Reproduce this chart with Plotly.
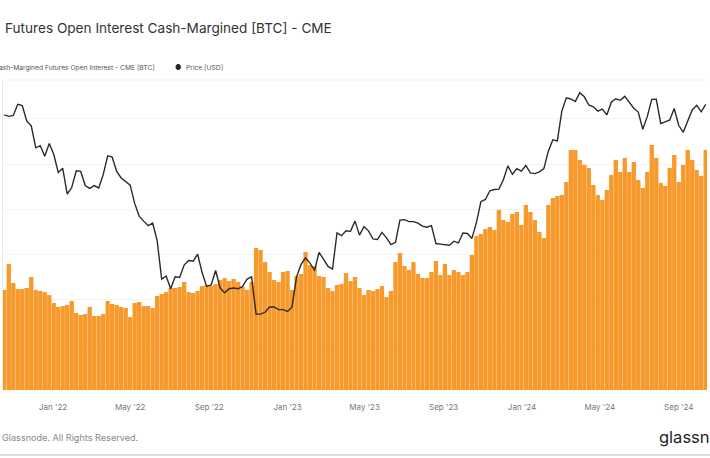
import pandas as pd
import plotly.graph_objects as go

# Weekly samples starting 2021-10-17
start_date = "2021-10-17"

# CME cash-margined futures open interest [BTC] (weekly)
oi_btc = [
    66400, 83600, 71000, 67000, 67000, 67700, 75000, 66400, 65700, 65000,
    63000, 57700, 55100, 55700, 56400, 59100, 51100, 49800, 50400, 55100,
    49100, 49100, 50400, 59100, 57100, 56400, 55100, 54400, 48400, 57700,
    58400, 55700, 55700, 54400, 62400, 63700, 65000, 67700, 67700, 68400,
    71700, 65000, 64400, 65700, 69000, 69700, 69000, 70300, 73000, 74300,
    72300, 73700, 71700, 68400, 66400, 71700, 94200, 92900, 84900, 78300,
    73000, 71700, 78300, 79000, 66400, 75600, 77000, 91600, 82900, 82300,
    75600, 75000, 67700, 65700, 69700, 70300, 77600, 72300, 75000, 67700,
    63000, 66400, 65700, 67000, 69000, 61700, 65700, 84900, 90900, 82300,
    79600, 84900, 77000, 74300, 74300, 78300, 85600, 76300, 83600, 76300,
    79600, 78300, 76300, 78300, 89600, 102200, 103500, 106800, 108200, 106200,
    119400, 112800, 111500, 116800, 118100, 109500, 122800, 118100, 112800, 104800,
    100900, 122800, 127400, 128700, 129400, 138000, 159300, 159300, 152600, 149300,
    147300, 136000, 129400, 126100, 132700, 142700, 152600, 144700, 154000, 144700,
    151300, 139400, 134000, 144700, 162600, 154000, 137400, 135400, 147300, 155900,
    138000, 149300, 159300, 152600, 146000, 142000, 159300,
]

# BTC price [USD] (weekly)
price_usd = [
    61500, 60900, 61300, 66000, 65500, 59000, 57200, 49400, 50100, 46700,
    50800, 47300, 41900, 43100, 36300, 37900, 42400, 42200, 38400, 37700,
    38400, 37800, 41300, 46800, 46400, 42200, 40400, 39500, 38500, 34100,
    31300, 30300, 29400, 29900, 26600, 20600, 21000, 19300, 20900, 20800,
    22600, 23300, 23200, 24300, 21500, 19600, 19800, 21800, 19400, 18800,
    19300, 19400, 19300, 19600, 20600, 20900, 16300, 16300, 16500, 17100,
    17100, 16800, 16800, 16600, 17100, 20900, 22700, 23700, 22900, 21800,
    24600, 23500, 22400, 22000, 28000, 27500, 28400, 28300, 30300, 27600,
    29200, 28400, 26900, 26800, 28100, 27100, 25900, 26300, 30500, 30600,
    30200, 30200, 29900, 29300, 29100, 29400, 26100, 26000, 25900, 25800,
    26500, 26200, 28000, 27900, 27000, 30000, 34500, 35000, 37100, 37400,
    37500, 39900, 43800, 41400, 43000, 42300, 43900, 41800, 41600, 42100,
    43000, 48300, 52100, 51700, 63100, 68900, 68400, 67200, 71300, 69400,
    65700, 64900, 63100, 63900, 61500, 66900, 68500, 67800, 69600, 66600,
    64300, 62700, 55900, 60800, 68200, 68300, 58100, 58700, 59500, 64200,
    57300, 54800, 59200, 63600, 65600, 62800, 66000,
]

title_text = "Futures Open Interest Cash-Margined [BTC] - CME"
oi_name = "Cash-Margined Futures Open Interest - CME [BTC]"
price_name = "Price [USD]"
footer_text = "Glassnode. All Rights Reserved."
brand_text = "glassnode"

dates = pd.date_range(start_date, periods=len(oi_btc), freq="7D")

W, H = 710, 458
ML, MR, MT, MB = 3, 3, 80, 68
PW, PH = W - ML - MR, H - MT - MB


def px_x(p):
    return (p - ML) / PW


def px_y(p):
    return (H - MB - p) / PH


FONT = "Inter, 'Noto Sans', sans-serif"
ORANGE = "#f7992b"

fig = go.Figure()
fig.add_trace(go.Bar(
    x=dates, y=oi_btc, name=oi_name, marker_color=ORANGE,
    marker_line_width=0, yaxis="y",
))
fig.add_trace(go.Scatter(
    x=dates, y=price_usd[:len(dates)], name=price_name, mode="lines",
    line=dict(color="#2a2a2a", width=1.4), yaxis="y2",
))

fig.update_layout(
    width=W, height=H,
    margin=dict(l=ML, r=MR, t=MT, b=MB),
    paper_bgcolor="white", plot_bgcolor="white",
    showlegend=False, bargap=0.04,
    font=dict(family=FONT),
    xaxis=dict(
        range=["2021-10-15", "2024-10-15"], type="date",
        tick0="2022-01-01", dtick="M4", tickformat="%b '%y",
        showgrid=False, zeroline=False, showline=False,
        ticks="outside", ticklen=9, tickcolor="rgba(0,0,0,0)",
        tickfont=dict(size=8, color="#777"),
    ),
    yaxis=dict(
        range=[0, 205750], dtick=30000, showticklabels=False,
        showgrid=True, gridcolor="#f3f3f3", gridwidth=1,
        zeroline=False, showline=True, linecolor="#efebdc", linewidth=1,
    ),
    yaxis2=dict(
        type="log", range=[3.9925, 4.890], overlaying="y",
        showticklabels=False, showgrid=False, zeroline=False,
    ),
)

ann = [
    dict(text=title_text, x=px_x(3), y=px_y(28), xanchor="left", yanchor="middle",
         font=dict(size=13.6, color="#333333")),
    dict(text=oi_name, x=px_x(157), y=px_y(68), xanchor="right", yanchor="middle",
         font=dict(size=6.7, color="#555555")),
    dict(text="●", x=px_x(178), y=px_y(68), xanchor="center", yanchor="middle",
         font=dict(size=7, color="#222222")),
    dict(text=price_name, x=px_x(184), y=px_y(68), xanchor="left", yanchor="middle",
         font=dict(size=6.7, color="#555555")),
    dict(text=footer_text, x=px_x(0), y=px_y(437), xanchor="left", yanchor="middle",
         font=dict(size=9.1, color="#888888")),
    dict(text=brand_text, x=px_x(657), y=px_y(437), xanchor="left", yanchor="middle",
         font=dict(size=16.5, color="#1e1e1e")),
]
for a in ann:
    a.update(xref="paper", yref="paper", showarrow=False)
fig.update_layout(annotations=ann)

fig.add_shape(type="line", xref="paper", yref="paper",
              x0=-0.01, x1=1.01, y0=px_y(455), y1=px_y(455),
              line=dict(color="#d0d0d0", width=1.5))
fig.add_shape(type="line", xref="paper", yref="paper",
              x0=0, x1=1, y0=1, y1=1,
              line=dict(color="#f3f3f3", width=1))

fig.write_html("out.html",
               config={"displayModeBar": False},
               post_script="document.body.style.margin='0px';document.body.style.padding='0px';")
